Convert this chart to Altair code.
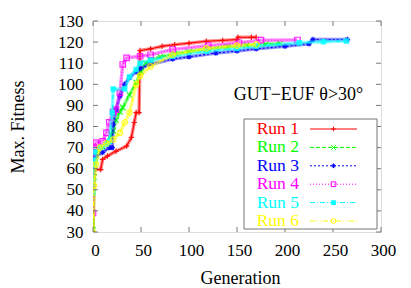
import altair as alt
import pandas as pd

runs = ["Run 1", "Run 2", "Run 3", "Run 4", "Run 5", "Run 6"]
colors = ["#ff0000", "#00ff00", "#0000ff", "#ff00ff", "#00ffff", "#ffff00"]

gen1 = [0, 1, 2, 8, 10, 15, 24, 35, 40, 43, 45, 48, 49, 60, 72, 85, 100, 118, 135, 150, 151, 165, 170]
fit1 = [30, 57, 59.6, 59.6, 64.4, 66, 68.3, 70.7, 74.8, 81.9, 86.6, 86.6, 116, 116.8, 118, 118.8, 119.5, 120.4, 120.8, 121.2, 122.3, 122.3, 122.3]

gen2 = [0, 1, 2, 3, 5, 10, 15, 19, 21, 24, 28, 31, 38, 45, 50, 55, 60, 70, 85, 100, 120, 140, 160, 180, 195]
fit2 = [31, 56, 62, 66, 68, 70.5, 72.5, 76, 78, 83, 87, 89, 95, 100.8, 106, 110, 111.5, 113, 114.5, 115.5, 116.8, 117.8, 118.5, 119, 119.3]

gen3 = [0, 1, 3, 10, 17, 20, 21, 24, 28, 33, 38, 45, 49, 60, 83, 100, 128, 150, 170, 200, 225, 229, 265]
fit3 = [64, 65, 66, 67.7, 70, 70, 81, 88, 94.4, 100, 103.2, 106, 107.5, 109.5, 112, 113, 114.8, 115.8, 116.8, 118, 119.2, 121.2, 121.2]

gen4 = [0, 1, 3, 10, 14, 17, 21, 24, 28, 31, 35, 49, 60, 83, 120, 152, 175, 213]
fit4 = [39, 70, 72.4, 73, 77, 82, 87, 88, 96, 109.4, 112.5, 113.3, 114, 116.5, 118.3, 119.7, 120.9, 121]

gen5 = [0, 1, 2, 3, 8, 14, 17, 20, 21, 33, 38, 45, 49, 60, 83, 118, 150, 170, 215, 240, 264]
fit5 = [48.7, 62, 64, 68, 70, 71.5, 73, 86.6, 97.8, 97.8, 103.5, 107, 110, 111.5, 113.3, 115.7, 117, 118, 119.7, 120.2, 120.5]

gen6 = [0, 1, 3, 7, 14, 21, 28, 33, 38, 45, 49, 60, 83, 118, 150, 170]
fit6 = [30, 52, 62, 70, 72, 73.8, 77, 81.9, 86.6, 100, 104, 108.5, 114, 117, 118.3, 118.9]

x_ticks = [0, 50, 100, 150, 200, 250, 300]
y_ticks = [30, 40, 50, 60, 70, 80, 90, 100, 110, 120, 130]
annotation = "GUT\u2212EUF \u03b8>30\u00b0"

gens = [gen1, gen2, gen3, gen4, gen5, gen6]
fits = [fit1, fit2, fit3, fit4, fit5, fit6]

FONT = "Liberation Serif"
W, H = 288, 211
FRAME = "#777777"

dashes = [[1, 0], [4, 2], [2, 2], [1, 2], [5, 2, 1, 2], [5, 2, 1, 2, 1, 2]]
shapes = [
    "M-1,0L1,0M0,-1L0,1",
    "M-1,-1L1,1M-1,1L1,-1",
    "M-1,0L1,0M0,-1L0,1M-0.7,-0.7L0.7,0.7M-0.7,0.7L0.7,-0.7",
    "square",
    "square",
    "circle",
]
filled = [False, False, False, False, True, False]

xs = alt.Scale(domain=[0, 300], nice=False, zero=False)
ys = alt.Scale(domain=[30, 130], nice=False, zero=False)

x_axis = alt.Axis(values=x_ticks, ticks=False, domain=False, grid=False,
                  labelFont=FONT, labelFontSize=17, labelColor="black",
                  labelPadding=10, labelFlush=False, labelOffset=2,
                  title="Generation", titleFont=FONT, titleFontSize=18,
                  titleFontWeight="normal", titleColor="black",
                  titleX=147, titleY=51, titleBaseline="alphabetic")
y_axis = alt.Axis(values=y_ticks, ticks=False, domain=False, grid=False,
                  labelFont=FONT, labelFontSize=17, labelColor="black",
                  labelPadding=10, labelFlush=False,
                  title="Max. Fitness", titleFont=FONT, titleFontSize=18,
                  titleFontWeight="normal", titleColor="black",
                  titleX=-75, titleY=105.5, titleAngle=270,
                  titleAlign="center", titleBaseline="middle")

layers = []
for i in range(6):
    df = pd.DataFrame({"gen": gens[i], "fit": fits[i], "run": runs[i]})
    band = alt.Chart(df).mark_line(
        color=colors[i], strokeWidth=3.5, opacity=0.45, clip=True
    ).encode(
        x=alt.X("gen:Q", scale=xs, axis=x_axis),
        y=alt.Y("fit:Q", scale=ys, axis=y_axis),
    )
    line = alt.Chart(df).mark_line(
        color=colors[i], strokeWidth=1.1, strokeDash=dashes[i], clip=True
    ).encode(
        x=alt.X("gen:Q", scale=xs, axis=x_axis),
        y=alt.Y("fit:Q", scale=ys, axis=y_axis),
    )
    pts = alt.Chart(df).mark_point(
        shape=shapes[i], filled=filled[i], color=colors[i], size=30,
        strokeWidth=1.2, opacity=0.85, clip=True
    ).encode(
        x=alt.X("gen:Q", scale=xs, axis=x_axis),
        y=alt.Y("fit:Q", scale=ys, axis=y_axis),
    )
    layers += [band, line, pts]

# inward ticks on all four sides (gnuplot style)
ydf = pd.DataFrame({"gen": [0] * len(y_ticks), "fit": y_ticks})
xdf = pd.DataFrame({"gen": x_ticks, "fit": [30] * len(x_ticks)})
tick_left = alt.Chart(ydf).mark_rule(color=FRAME, strokeWidth=1).encode(
    y=alt.Y("fit:Q", scale=ys, axis=y_axis), x=alt.value(0), x2=alt.value(5))
tick_right = alt.Chart(ydf).mark_rule(color=FRAME, strokeWidth=1).encode(
    y=alt.Y("fit:Q", scale=ys, axis=y_axis), x=alt.value(W - 5), x2=alt.value(W))
tick_bottom = alt.Chart(xdf).mark_rule(color=FRAME, strokeWidth=1).encode(
    x=alt.X("gen:Q", scale=xs, axis=x_axis), y=alt.value(H - 5), y2=alt.value(H))
tick_top = alt.Chart(xdf).mark_rule(color=FRAME, strokeWidth=1).encode(
    x=alt.X("gen:Q", scale=xs, axis=x_axis), y=alt.value(0), y2=alt.value(5))
layers += [tick_left, tick_right, tick_bottom, tick_top]

# annotation
ann = alt.Chart(pd.DataFrame({"t": [annotation]})).mark_text(
    font=FONT, fontSize=18, color="black", align="center", baseline="middle"
).encode(text="t:N", x=alt.value(205.5), y=alt.value(74))
layers.append(ann)

# legend box
box = alt.Chart(pd.DataFrame({"a": [0]})).mark_rect(
    fill="white", stroke=FRAME, strokeWidth=1
).encode(x=alt.value(151), x2=alt.value(284), y=alt.value(98), y2=alt.value(208))
layers.append(box)

for i in range(6):
    ry = 108 + i * 18.4
    ldf = pd.DataFrame({"run": [runs[i]]})
    txt = alt.Chart(ldf).mark_text(
        font=FONT, fontSize=17.5, color=colors[i], align="right", baseline="middle"
    ).encode(text="run:N", x=alt.value(206), y=alt.value(ry))
    rl = alt.Chart(ldf).mark_rule(
        color=colors[i], strokeWidth=1, strokeDash=dashes[i]
    ).encode(x=alt.value(217), x2=alt.value(264), y=alt.value(ry))
    lp = alt.Chart(ldf).mark_point(
        shape=shapes[i], filled=filled[i], color=colors[i], size=22,
        strokeWidth=1, opacity=1
    ).encode(x=alt.value(240.5), y=alt.value(ry))
    layers += [rl, lp, txt]

chart = alt.layer(*layers).properties(
    width=W, height=H,
    autosize=alt.AutoSizeParams(type="none"),
    padding={"left": 85, "top": 13, "right": 22, "bottom": 56},
).configure_view(stroke=FRAME, strokeWidth=1).configure(background="white")

chart.save("out.html", embed_options={"renderer": "svg", "actions": False})
